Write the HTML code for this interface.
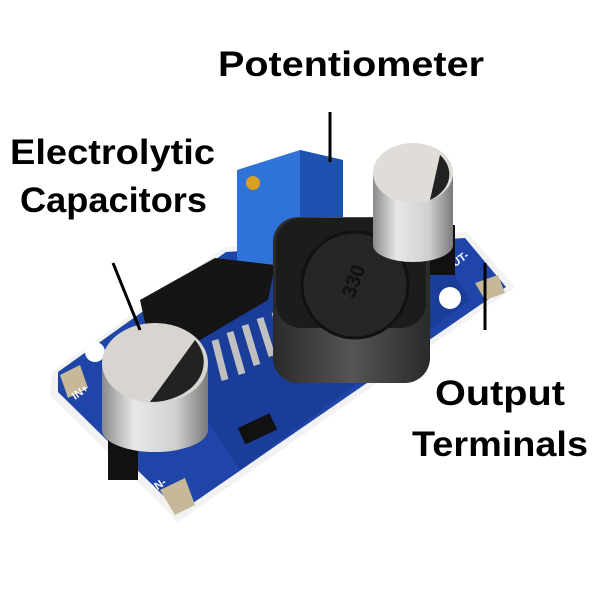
<!DOCTYPE html>
<html><head><meta charset="utf-8"><style>
html,body{margin:0;padding:0;background:#fff;}
svg{display:block}
text{font-family:"Liberation Sans",sans-serif;font-weight:bold;fill:#000}
</style></head><body>
<svg width="600" height="600" viewBox="0 0 600 600">
<defs>
<linearGradient id="cap" x1="0" x2="1">
<stop offset="0" stop-color="#8a8a8a"/><stop offset="0.3" stop-color="#e8e8e8"/><stop offset="0.7" stop-color="#d0d0d0"/><stop offset="1" stop-color="#7a7a7a"/></linearGradient>
<linearGradient id="ind" x1="0" x2="1"><stop offset="0" stop-color="#2a2a2a"/><stop offset="0.5" stop-color="#555"/><stop offset="1" stop-color="#2a2a2a"/></linearGradient>
</defs>
<!-- board -->
<polygon points="52,372 225,247 467,232 515,287 178,522 50,395" fill="#f2f2f2"/>
<polygon points="58,372 226,252 465,238 506,287 180,512 58,392" fill="#1f45a8"/>
<polygon points="150,330 280,260 440,250 470,300 240,470" fill="#1a3d9a"/>
<!-- pads/holes -->
<circle cx="95" cy="352" r="10" fill="#fff"/>
<circle cx="450" cy="298" r="11" fill="#fff"/>
<polygon points="60,375 80,365 88,388 68,398" fill="#c8b89a"/>
<polygon points="160,490 185,478 195,505 175,515" fill="#c8b89a"/>
<polygon points="475,283 498,275 505,293 485,300" fill="#c8b89a"/>
<text x="75" y="400" font-size="11" style="fill:#fff" transform="rotate(-35 75 400)">IN+</text>
<text x="155" y="492" font-size="11" style="fill:#fff" transform="rotate(-35 155 492)">IN-</text>
<text x="448" y="272" font-size="11" style="fill:#fff" transform="rotate(-35 448 272)">OUT-</text>
<!-- pot -->
<polygon points="237,170 300,150 343,160 343,245 300,272 237,265" fill="#2f72d8"/>
<polygon points="300,150 343,160 343,245 300,272" fill="#1d52b0"/>
<circle cx="253" cy="183" r="7" fill="#d8a020"/>
<!-- IC -->
<polygon points="140,300 215,258 275,265 268,300 200,340 150,345" fill="#151515"/>
<g stroke="#c0c0c0" stroke-width="7" fill="none">
<path d="M215,340 l10,40"/><path d="M230,332 l12,42"/><path d="M245,325 l12,40"/><path d="M260,318 l12,38"/><path d="M275,312 l10,35"/>
</g>
<rect x="240" y="420" width="35" height="18" fill="#111" transform="rotate(-25 257 429)"/>
<!-- inductor -->
<rect x="273" y="217" width="157" height="166" rx="25" fill="url(#ind)"/>
<rect x="276" y="218" width="150" height="110" rx="25" fill="#1c1c1c"/>
<circle cx="355" cy="285" r="53" fill="#262626" stroke="#111" stroke-width="3"/>
<text x="340" y="295" font-size="20" style="fill:#111" transform="rotate(-70 350 287)">330</text>
<!-- right capacitor -->
<rect x="430" y="225" width="25" height="50" fill="#111"/>
<path d="M373,173 L373,245 A40,17 0 0 0 453,245 L453,173 Z" fill="url(#cap)"/>
<ellipse cx="413" cy="173" rx="40" ry="30" fill="#e0dcd8"/>
<path d="M440,155 A40,30 0 0 1 430,200 Z" fill="#222"/>
<!-- left capacitor -->
<rect x="108" y="420" width="30" height="60" fill="#111"/>
<path d="M102,363 L102,430 A53,22 0 0 0 208,430 L208,363 Z" fill="url(#cap)"/>
<ellipse cx="155" cy="363" rx="53" ry="40" fill="#d8d4d0"/>
<path d="M195,340 A53,40 0 0 1 150,402 Z" fill="#222"/>
<!-- labels -->
<text x="218" y="76" font-size="35" textLength="266" lengthAdjust="spacingAndGlyphs">Potentiometer</text>
<text x="10" y="164" font-size="35" textLength="205" lengthAdjust="spacingAndGlyphs">Electrolytic</text>
<text x="20" y="212" font-size="35" textLength="187" lengthAdjust="spacingAndGlyphs">Capacitors</text>
<text x="435" y="405" font-size="35" textLength="130" lengthAdjust="spacingAndGlyphs">Output</text>
<text x="412" y="456" font-size="35" textLength="176" lengthAdjust="spacingAndGlyphs">Terminals</text>
<g stroke="#000" stroke-width="3">
<line x1="330" y1="112" x2="330" y2="162"/>
<line x1="113" y1="263" x2="140" y2="330"/>
<line x1="485" y1="263" x2="485" y2="330"/>
</g>
</svg>
</body></html>
